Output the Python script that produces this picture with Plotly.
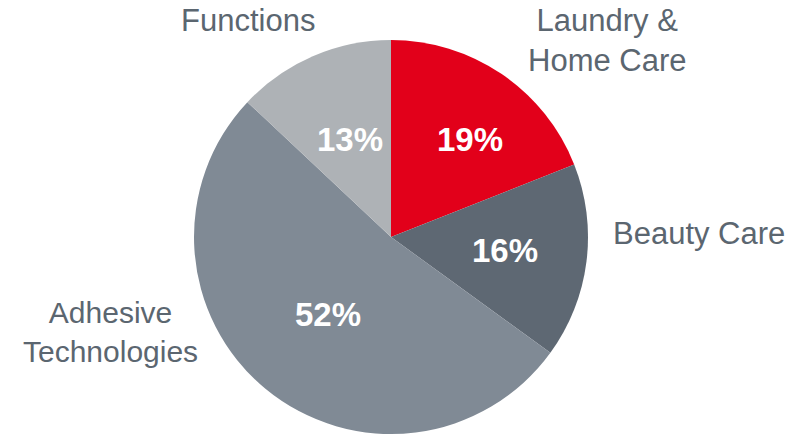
import math
import plotly.graph_objects as go

# Sales share by business unit
segments = ["Laundry &<br>Home Care", "Beauty Care", "Adhesive<br>Technologies", "Functions"]
shares = [19, 16, 52, 13]
colors = ["#E2001A", "#5E6873", "#808A95", "#AEB2B6"]

W, H = 792, 438
cx, cy, R = 391, 237, 197                 # pie centre and radius in pixels
label_radius = [0.64, 0.58, 0.505, 0.543]  # radial placement of the percent labels
label_turn = [4.5, -0.7, 0.0, 0.6]         # small angular nudge (degrees)

fig = go.Figure(go.Pie(
    values=shares,
    labels=segments,
    marker=dict(colors=colors, line=dict(width=0)),
    sort=False,
    direction="clockwise",
    rotation=0,
    textinfo="none",
    hoverinfo="label+percent",
    showlegend=False,
    domain=dict(x=[(cx - R) / W, (cx + R) / W], y=[1 - (cy + R) / H, 1 - (cy - R) / H]),
))

# Percent labels placed at each slice's mid-angle
annotations = []
total = sum(shares)
cum = 0
for val, frac, turn in zip(shares, label_radius, label_turn):
    mid = (cum + val / 2) / total * 2 * math.pi + math.radians(turn)
    cum += val
    px = cx + frac * R * math.sin(mid)
    py = cy - frac * R * math.cos(mid) + 1
    annotations.append(dict(
        x=px / W, y=1 - py / H, xref="paper", yref="paper",
        text=f"<b>{val}%</b>", showarrow=False,
        font=dict(family="Liberation Sans, Arial", size=33, color="white"),
        xanchor="center", yanchor="middle",
    ))

# Category names around the pie
outer_labels = [
    (segments[0], 607, 40, "center", 31),
    (segments[1], 611, 233, "left", 31),
    (segments[2], 110, 332, "center", 30),
    (segments[3], 248, 21, "center", 31),
]
for text, px, py, anchor, size in outer_labels:
    annotations.append(dict(
        x=px / W, y=1 - py / H, xref="paper", yref="paper",
        text=text, showarrow=False,
        font=dict(family="Liberation Sans, Arial", size=size, color="#5B6670"),
        xanchor=anchor, yanchor="middle", align="center",
    ))

fig.update_layout(
    width=W, height=H,
    margin=dict(l=0, r=0, t=0, b=0),
    paper_bgcolor="white",
    plot_bgcolor="white",
    annotations=annotations,
)

fig.write_html("out.html")
